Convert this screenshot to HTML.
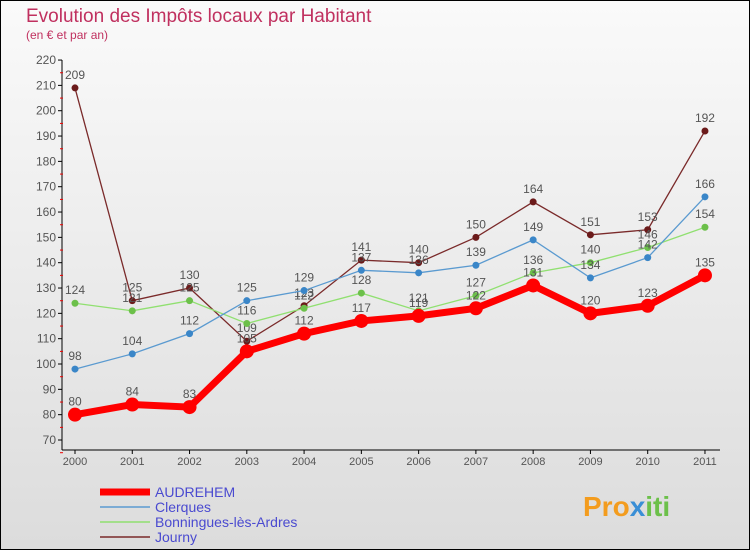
<!DOCTYPE html>
<html><head><meta charset="utf-8"><style>
body{margin:0;width:750px;height:550px;overflow:hidden;font-family:"Liberation Sans",sans-serif}
#wrap{position:absolute;left:0;top:0;width:748px;height:548px;border:1px solid #000;background:linear-gradient(#fafafa,#dcdcdc)}
</style></head><body>
<div id="wrap">
<svg id="chart" width="750" height="550" style="position:absolute;left:-1px;top:-1px">
<text x="26" y="22" font-size="19" fill="#c0305f">Evolution des Impôts locaux par Habitant</text>
<text x="26" y="39" font-size="12" fill="#c0305f">(en € et par an)</text>
<g id="axes"></g><g id="series"></g><g id="legend"></g>
<text x="583" y="516" font-size="28" font-weight="bold" fill="#f39c1e">Pro<tspan fill="#3a8fd6">x</tspan><tspan fill="#6cc04a">iti</tspan></text>
</svg></div>
<script>
const years=["2000","2001","2002","2003","2004","2005","2006","2007","2008","2009","2010","2011"];
const yTicks=[70,80,90,100,110,120,130,140,150,160,170,180,190,200,210,220];
const audrehem=[80,84,83,105,112,117,119,122,131,120,123,135];
const clerques=[98,104,112,125,129,137,136,139,149,134,142,166];
const bonningues=[124,121,125,116,122,128,121,127,136,140,146,154];
const journy=[209,125,130,109,123,141,140,150,164,151,153,192];
const seriesNames=["AUDREHEM","Clerques","Bonningues-lès-Ardres","Journy"];
const NS="http://www.w3.org/2000/svg";
const xs=i=>75+i*57.27, ys=v=>440-(v-70)*2.533;
function mk(tag,attrs,parent,text){const e=document.createElementNS(NS,tag);for(const k in attrs)e.setAttribute(k,attrs[k]);if(text!==undefined)e.textContent=text;parent.appendChild(e);return e;}
const ax=document.getElementById('axes');
let l=mk('line',{x1:62,y1:60,x2:62,y2:450,stroke:'#000'},ax);


l=mk('line',{x1:62,y1:450,x2:720,y2:450,stroke:'#000'},ax);


yTicks.forEach(v=>{const y=ys(v);mk('line',{x1:58,y1:y,x2:62,y2:y,stroke:'#000'},ax);
mk('line',{x1:60,y1:y+12.7,x2:63,y2:y+12.7,stroke:'#e00'},ax);
const t=mk('text',{x:56,y:y+4,'font-size':12,fill:'#555','text-anchor':'end'},ax,v);

});
years.forEach((yr,i)=>{const x=xs(i);mk('line',{x1:x,y1:450,x2:x,y2:454,stroke:'#000'},ax);
const t=mk('text',{x:x,y:465,'font-size':11,fill:'#555','text-anchor':'middle'},ax,yr);

});
const sg=document.getElementById('series');
const defs=[[journy,'#7a2a2a','#6b1a1a',1.3,3.5],[bonningues,'#90e070','#6cc04a',1.3,3.5],[clerques,'#5a9ad0','#3a86c8',1.3,3.5],[audrehem,'#ff0000','#ff0000',7,7]];
const ids=['journy','bonningues','clerques','audrehem'];
defs.forEach(([d,lc,pc,w,r],k)=>{
const g=mk('g',{},sg);


mk('polyline',{points:d.map((v,i)=>xs(i)+','+ys(v)).join(' '),fill:'none',stroke:lc,'stroke-width':w},g);
d.forEach((v,i)=>{const c=mk('circle',{cx:xs(i),cy:ys(v),r:r,fill:pc},g);


const t=mk('text',{x:xs(i),y:ys(v)-9,'font-size':12,fill:'#555','text-anchor':'middle'},g,v);

});});
const lg=document.getElementById('legend');
const lcols=['#ff0000','#5a9ad0','#90e070','#7a2a2a'],lw=[7,1.5,1.5,1.5];
seriesNames.forEach((n,i)=>{const y=492+i*15;
const g=mk('g',{},lg);


mk('line',{x1:100,y1:y,x2:150,y2:y,stroke:lcols[i],'stroke-width':lw[i]},g);
mk('text',{x:155,y:y+5,'font-size':14,fill:'#4a4ad0'},g,n);});
</script>
</body></html>
